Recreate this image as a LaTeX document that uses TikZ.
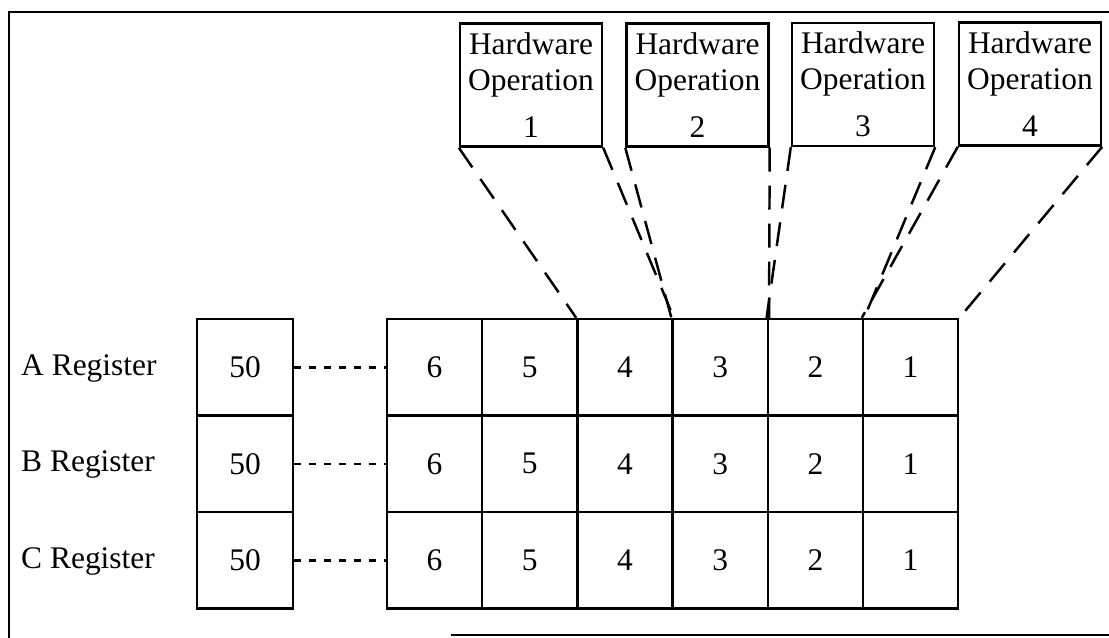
\documentclass[tikz,border=0pt]{standalone}
\usepackage{fontspec}
\setmainfont{Liberation Serif}

\begin{document}
\begin{tikzpicture}[x=0.02cm,y=-0.02cm,line width=1.4pt,
        font=\fontsize{17.9}{20.5}\selectfont,
        cell/.style={rectangle,draw,minimum width=1.904cm,minimum height=1.93cm,inner sep=0pt},
        regbox/.style={rectangle,draw,minimum width=1.92cm,minimum height=1.93cm,inner sep=0pt},
        hwbox/.style={rectangle,draw,minimum width=2.84cm,minimum height=2.46cm,inner sep=0pt,align=center},
        regdash/.style={dash pattern=on 4pt off 4.5pt},
        hwdash/.style={dash pattern=on 13.6pt off 8pt}]
    \useasboundingbox (0,0) rectangle (1109,638);

    % Frame
    \draw[line width=1.7pt] (1109,12) -- (9,12) -- (9,638);
    \draw[line width=1.7pt] (451,635) -- (1109,635);

    % Register names
    \node[anchor=west,inner sep=0pt] (la) at (20,368) {A Register};
    \node[anchor=west,inner sep=0pt] (lb) at (20,464) {B Register};
    \node[anchor=west,inner sep=0pt] (lc) at (20,561) {C Register};

    % Register values
    \node[regbox] (ra) at (245,367.3) {50};
    \node[regbox] (rb) at (245,463.8) {50};
    \node[regbox] (rc) at (245,560.3) {50};

    % A row
    \node[cell] (a6) at (434.6,367.3) {6};
    \node[cell] (a5) at (529.8,367.3) {5};
    \node[cell] (a4) at (625.0,367.3) {4};
    \node[cell] (a3) at (720.2,367.3) {3};
    \node[cell] (a2) at (815.4,367.3) {2};
    \node[cell] (a1) at (910.6,367.3) {1};

    % B row
    \node[cell] (b6) at (434.6,463.8) {6};
    \node[cell] (b5) at (529.8,463.8) {5};
    \node[cell] (b4) at (625.0,463.8) {4};
    \node[cell] (b3) at (720.2,463.8) {3};
    \node[cell] (b2) at (815.4,463.8) {2};
    \node[cell] (b1) at (910.6,463.8) {1};

    % C row
    \node[cell] (c6) at (434.6,560.3) {6};
    \node[cell] (c5) at (529.8,560.3) {5};
    \node[cell] (c4) at (625.0,560.3) {4};
    \node[cell] (c3) at (720.2,560.3) {3};
    \node[cell] (c2) at (815.4,560.3) {2};
    \node[cell] (c1) at (910.6,560.3) {1};

    % Hardware operations
    \node[hwbox] (h1) at (531,85) {Hardware\\Operation\\[6pt]1};
    \node[hwbox] (h2) at (697.5,85) {Hardware\\Operation\\[6pt]2};
    \node[hwbox] (h3) at (863,84.5) {Hardware\\Operation\\[6pt]3};
    \node[hwbox] (h4) at (1030,84) {Hardware\\Operation\\[6pt]4};

    % Register links
    \draw[regdash] (ra) -- (a6);
    \draw[regdash] (rb) -- (b6);
    \draw[regdash] (rc) -- (c6);

    % Operation links
    \draw[hwdash] (h1.south west) -- (a4.north west);
    \draw[hwdash] (h1.south east) -- (a4.north east);
    \draw[hwdash] (h2.south west) -- (a3.north west);
    \draw[hwdash] (h2.south east) -- (a3.north east);
    \draw[hwdash] (h3.south west) -- (a2.north west);
    \draw[hwdash] (h3.south east) -- (a2.north east);
    \draw[hwdash] (h4.south west) -- (a1.north west);
    \draw[hwdash] (h4.south east) -- (a1.north east);
\end{tikzpicture}
\end{document}
